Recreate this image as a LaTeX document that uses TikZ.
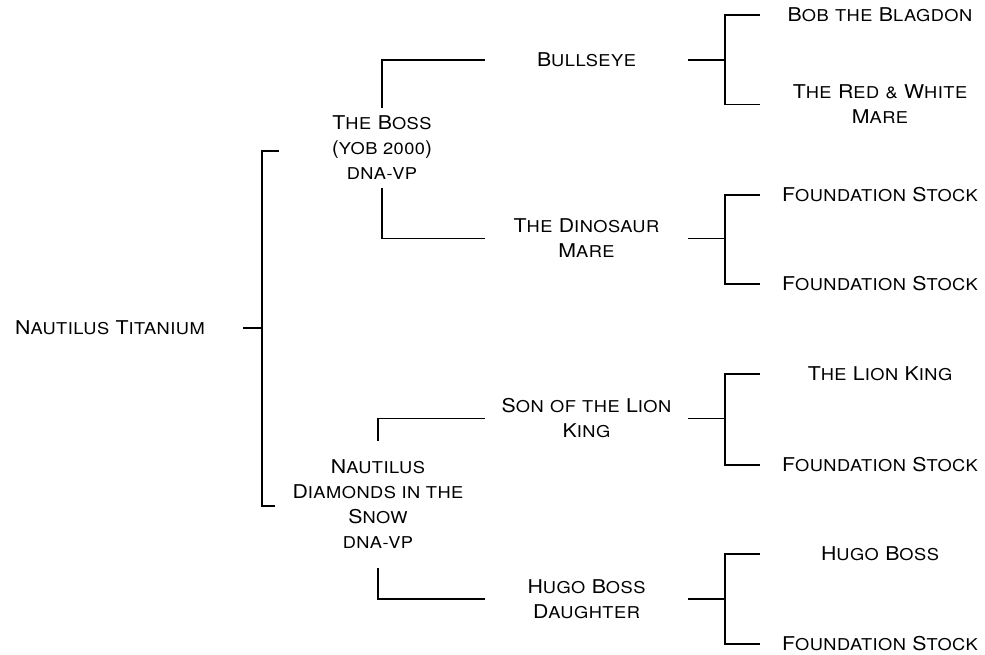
\documentclass[tikz,border=0pt]{standalone}
\usepackage{fontspec}
\setmainfont{TeX Gyre Heros}[FakeStretch=1.12,LetterSpace=3]
\newcommand\lc[1]{{\fontsize{16.3}{25}\selectfont\MakeUppercase{#1}}}
\tikzset{
  horse/.style={align=center, font=\fontsize{19}{25}\selectfont, inner xsep=2pt, outer sep=0pt},
  parent/.style={horse, text width=199pt},
  grand/.style={horse, text width=236pt},
}

\begin{document}
\begin{tikzpicture}[x=1pt, y=-1pt, line width=1.2pt]
    \useasboundingbox (0,0) rectangle (985,655);
    % foal
    \node[horse, text width=262pt] (foal) at (110,328) {N\lc{autilus} T\lc{itanium}};
    % sire and dam
    \node[horse, inner ysep=8pt]  (sire) at (382,148)   {T\lc{he} B\lc{oss}\\(\lc{yob 2000})\\\lc{dna-vp}};
    \node[horse, inner ysep=19pt] (dam)  at (378,504.5) {N\lc{autilus}\\D\lc{iamonds in the}\\S\lc{now}\\\lc{dna-vp}};
    % grandparents
    \node[parent] (bull) at (586.5,60)    {B\lc{ullseye}};
    \node[parent] (dino) at (586.5,238.5) {T\lc{he} D\lc{inosaur}\\M\lc{are}};
    \node[parent] (son)  at (586.5,418.5) {S\lc{on of the} L\lc{ion}\\K\lc{ing}};
    \node[parent] (hbd)  at (586.5,599)   {H\lc{ugo} B\lc{oss}\\D\lc{aughter}};
    % great grandparents
    \node[grand] (bob)  at (880,15)    {B\lc{ob the} B\lc{lagdon}};
    \node[grand] (red)  at (880,104.5) {T\lc{he} R\lc{ed \&} W\lc{hite}\\M\lc{are}};
    \node[grand] (fsa)  at (880,195)   {F\lc{oundation} S\lc{tock}};
    \node[grand] (fsb)  at (880,284)   {F\lc{oundation} S\lc{tock}};
    \node[grand] (lion) at (880,374)   {T\lc{he} L\lc{ion} K\lc{ing}};
    \node[grand] (fsc)  at (880,465)   {F\lc{oundation} S\lc{tock}};
    \node[grand] (hugo) at (880,554)   {H\lc{ugo} B\lc{oss}};
    \node[grand] (fsd)  at (880,644)   {F\lc{oundation} S\lc{tock}};

    % foal bracket
    \coordinate (jf)  at (262,328);
    \coordinate (jft) at (279,151);
    \coordinate (jfb) at (275,506);
    \draw (foal.east) -- (jf);
    \draw (jft) -| (jf) |- (jfb);
    % sire and dam brackets
    \draw (bull.west) -| (sire.north);
    \draw (dino.west) -| (sire.south);
    \draw (son.west)  -| (dam.north);
    \draw (hbd.west)  -| (dam.south);
    % grandparent brackets
    \foreach \p/\a/\b in {bull/bob/red, dino/fsa/fsb, son/lion/fsc, hbd/hugo/fsd} {
      \draw (\p.east) -- ++(37,0) coordinate (j);
      \draw (\a.west) -| (j) |- (\b.west);
    }
\end{tikzpicture}
\end{document}
